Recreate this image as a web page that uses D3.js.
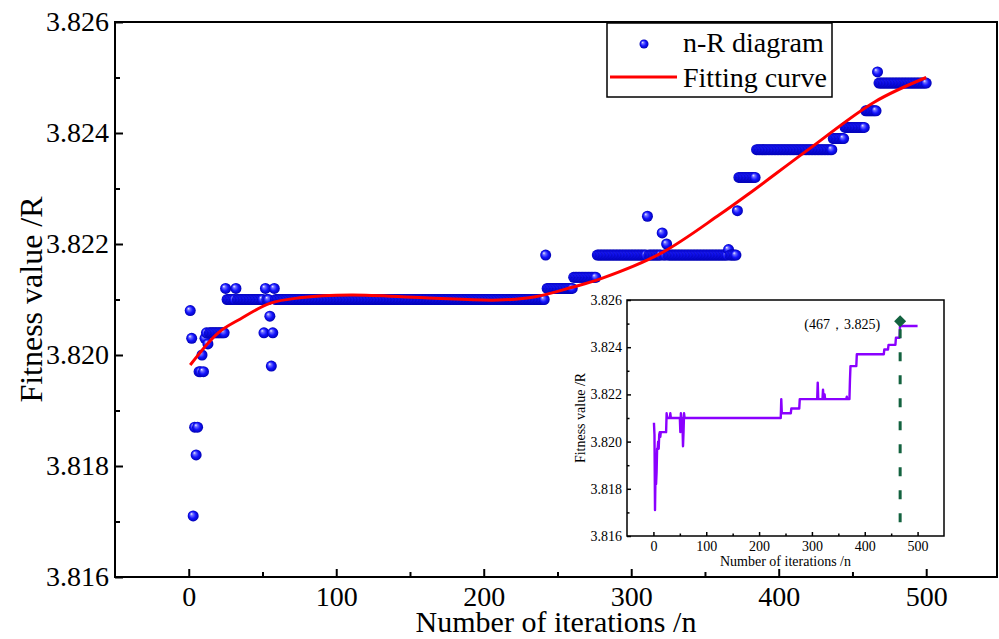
<!DOCTYPE html>
<html>
<head>
<meta charset="utf-8">
<script src="https://cdn.jsdelivr.net/npm/d3@7/dist/d3.min.js"></script>
<style>
  html, body { margin: 0; padding: 0; background: #fff; }
  svg { display: block; }
  svg text { font-family: "Liberation Serif", Tinos, "Times New Roman", Times, "DejaVu Serif", serif; fill: #000; }
</style>
</head>
<body>
<div id="chart"></div>
<script>
// fitness value per iteration, stored as runs: [first n, last n, R]
const runs = [
  [1, 1, 3.8208], [2, 2, 3.8203], [3, 3, 3.8171], [4, 4, 3.8187], [5, 5, 3.8182],
  [6, 6, 3.8187], [7, 7, 3.8197], [8, 8, 3.8197], [9, 9, 3.8200], [10, 10, 3.8197],
  [11, 11, 3.8203], [12, 12, 3.8204], [13, 13, 3.8202], [14, 24, 3.8204],
  [25, 25, 3.8212], [26, 31, 3.8210], [32, 32, 3.8212], [33, 50, 3.8210],
  [51, 51, 3.8204], [52, 52, 3.8212], [53, 54, 3.8210], [55, 55, 3.8207],
  [56, 56, 3.8198], [57, 57, 3.8204], [58, 58, 3.8212], [59, 241, 3.8210],
  [242, 242, 3.8218], [243, 260, 3.8212], [261, 276, 3.8214], [277, 310, 3.8218],
  [311, 311, 3.8225], [312, 320, 3.8218], [321, 321, 3.8222], [322, 323, 3.8218],
  [324, 324, 3.8220], [325, 365, 3.8218], [366, 366, 3.8219], [367, 371, 3.8218],
  [372, 372, 3.8226], [373, 384, 3.8232], [385, 436, 3.8237], [437, 444, 3.8239],
  [445, 458, 3.8241], [459, 466, 3.8244], [467, 467, 3.8251], [468, 500, 3.8249]
];

// fitting curve
const fitN = [1, 20, 35, 55, 75, 110, 160, 210, 235, 260, 280, 320, 360, 380, 420, 465, 500];
const fitR = [3.81982, 3.82040, 3.82065, 3.82093, 3.82103, 3.82108, 3.82103, 3.82099,
              3.82105, 3.82122, 3.82138, 3.82183, 3.82253, 3.82291, 3.82370, 3.82456, 3.82500];

const xTicks = [0, 100, 200, 300, 400, 500];
const xMinor = [50, 150, 250, 350, 450];
const yTicks = [3.816, 3.818, 3.820, 3.822, 3.824, 3.826];
const yMinor = [3.817, 3.819, 3.821, 3.823, 3.825];
const best = { n: 467, r: 3.8251 };
const bestLabel = "(467，3.825)";
const legendLabels = ["n-R diagram", "Fitting curve"];

const FONT = "'Liberation Serif', Tinos, 'Times New Roman', Times, 'DejaVu Serif', serif";

const points = [];
runs.forEach(([a, b, r]) => {
  for (let n = a; n <= b; n++) points.push({ n, r });
});
const fitData = fitN.map((n, i) => ({ n, r: fitR[i] }));

const W = 999, H = 639;
const svg = d3.select("#chart").append("svg")
  .attr("width", W).attr("height", H)
  .attr("viewBox", `0 0 ${W} ${H}`)
  .attr("font-family", FONT);

const defs = svg.append("defs");
const grad = defs.append("radialGradient")
  .attr("id", "ball")
  .attr("cx", "50%").attr("cy", "50%").attr("r", "50%")
  .attr("fx", "32%").attr("fy", "30%");
grad.append("stop").attr("offset", "0%").attr("stop-color", "#f4f4ff");
grad.append("stop").attr("offset", "25%").attr("stop-color", "#7070ff");
grad.append("stop").attr("offset", "60%").attr("stop-color", "#1515ff");
grad.append("stop").attr("offset", "100%").attr("stop-color", "#0000b4");

// draws a boxed frame with inward ticks
function frame(g, x, y, o) {
  const [x0, x1] = x.range();
  const [y0, y1] = y.range();

  g.append("g").attr("transform", `translate(0,${y0})`)
    .call(d3.axisBottom(x).tickValues(xTicks).tickSize(-o.major).tickPadding(o.padX)
      .tickFormat(d3.format("d")));
  g.append("g").attr("transform", `translate(0,${y0})`)
    .call(d3.axisBottom(x).tickValues(xMinor).tickSize(-o.minor).tickFormat(""));

  g.append("g").attr("transform", `translate(${x0},0)`)
    .call(d3.axisLeft(y).tickValues(yTicks).tickSize(-o.major).tickPadding(o.padY)
      .tickFormat(d3.format(".3f")));
  g.append("g").attr("transform", `translate(${x0},0)`)
    .call(d3.axisLeft(y).tickValues(yMinor).tickSize(-o.minor).tickFormat(""));

  g.selectAll(".domain").remove();
  g.selectAll(".tick line").attr("stroke", "#000").attr("stroke-width", o.stroke);
  g.selectAll("g").attr("font-family", FONT).attr("font-size", o.font);
  g.selectAll(".tick text").attr("fill", "#000");

  g.append("rect")
    .attr("x", x0).attr("y", y1)
    .attr("width", x1 - x0).attr("height", y0 - y1)
    .attr("fill", "none").attr("stroke", "#000").attr("stroke-width", o.stroke);
}

// ---------------- main chart ----------------
const x = d3.scaleLinear().domain([-50, 548]).range([115, 997]);
const y = d3.scaleLinear().domain([3.816, 3.826]).range([577, 22]);

const main = svg.append("g");

main.append("g").selectAll("circle")
  .data(points)
  .join("circle")
  .attr("cx", d => x(d.n))
  .attr("cy", d => y(d.r))
  .attr("r", 5.5)
  .attr("fill", "url(#ball)");

main.append("path")
  .datum(fitData)
  .attr("fill", "none")
  .attr("stroke", "#ff0000")
  .attr("stroke-width", 3)
  .attr("d", d3.line().x(d => x(d.n)).y(d => y(d.r)).curve(d3.curveCatmullRom.alpha(0.5)));

frame(main, x, y, { major: 8, minor: 5, padX: 9, padY: 6, font: 28, stroke: 2 });

main.append("text")
  .attr("x", 556)
  .attr("y", 632)
  .attr("text-anchor", "middle")
  .attr("font-size", 30)
  .text("Number of iterations /n");

main.append("text")
  .attr("transform", `translate(42,${(y.range()[0] + y.range()[1]) / 2}) rotate(-90)`)
  .attr("text-anchor", "middle")
  .attr("font-size", 32)
  .text("Fitness value /R");

// legend
const leg = main.append("g");
leg.append("rect")
  .attr("x", 607).attr("y", 23).attr("width", 225).attr("height", 74)
  .attr("fill", "#fff").attr("stroke", "#000").attr("stroke-width", 1.5);
leg.append("circle").attr("cx", 644).attr("cy", 44).attr("r", 4.5).attr("fill", "url(#ball)");
leg.append("line").attr("x1", 610).attr("x2", 677).attr("y1", 77).attr("y2", 77)
  .attr("stroke", "#ff0000").attr("stroke-width", 3);
leg.selectAll("text.lbl")
  .data(legendLabels)
  .join("text")
  .attr("class", "lbl")
  .attr("x", 683)
  .attr("y", (d, i) => 52 + i * 35)
  .attr("font-size", 28)
  .text(d => d);

// ---------------- inset ----------------
const xi = d3.scaleLinear().domain([-50, 550]).range([627, 944]);
const yi = d3.scaleLinear().domain([3.816, 3.826]).range([536, 300]);

const inset = svg.append("g");
inset.append("rect")
  .attr("x", xi.range()[0]).attr("y", yi.range()[1])
  .attr("width", xi.range()[1] - xi.range()[0])
  .attr("height", yi.range()[0] - yi.range()[1])
  .attr("fill", "#fff");

inset.append("path")
  .datum(points)
  .attr("fill", "none")
  .attr("stroke", "#8a00ff")
  .attr("stroke-width", 2.4)
  .attr("stroke-linejoin", "round")
  .attr("d", d3.line().x(d => xi(d.n)).y(d => yi(d.r)));

inset.append("line")
  .attr("x1", xi(best.n)).attr("x2", xi(best.n))
  .attr("y1", yi(best.r) + 8).attr("y2", yi.range()[0])
  .attr("stroke", "#13623f").attr("stroke-width", 3)
  .attr("stroke-dasharray", "9,14");

inset.append("path")
  .attr("transform", `translate(${xi(best.n)},${yi(best.r)}) rotate(45)`)
  .attr("d", d3.symbol(d3.symbolSquare, 72)())
  .attr("fill", "#13623f");

inset.append("text")
  .attr("x", xi(best.n) - 20)
  .attr("y", yi(best.r) + 8)
  .attr("text-anchor", "end")
  .attr("font-size", 14)
  .text(bestLabel);

frame(inset, xi, yi, { major: 4, minor: 2.5, padX: 5, padY: 5, font: 14, stroke: 1.5 });

inset.append("text")
  .attr("x", (xi.range()[0] + xi.range()[1]) / 2)
  .attr("y", 566)
  .attr("text-anchor", "middle")
  .attr("font-size", 14)
  .text("Number of iterations /n");

inset.append("text")
  .attr("transform", `translate(585,${(yi.range()[0] + yi.range()[1]) / 2}) rotate(-90)`)
  .attr("text-anchor", "middle")
  .attr("font-size", 14)
  .text("Fitness value /R");
</script>
</body>
</html>
